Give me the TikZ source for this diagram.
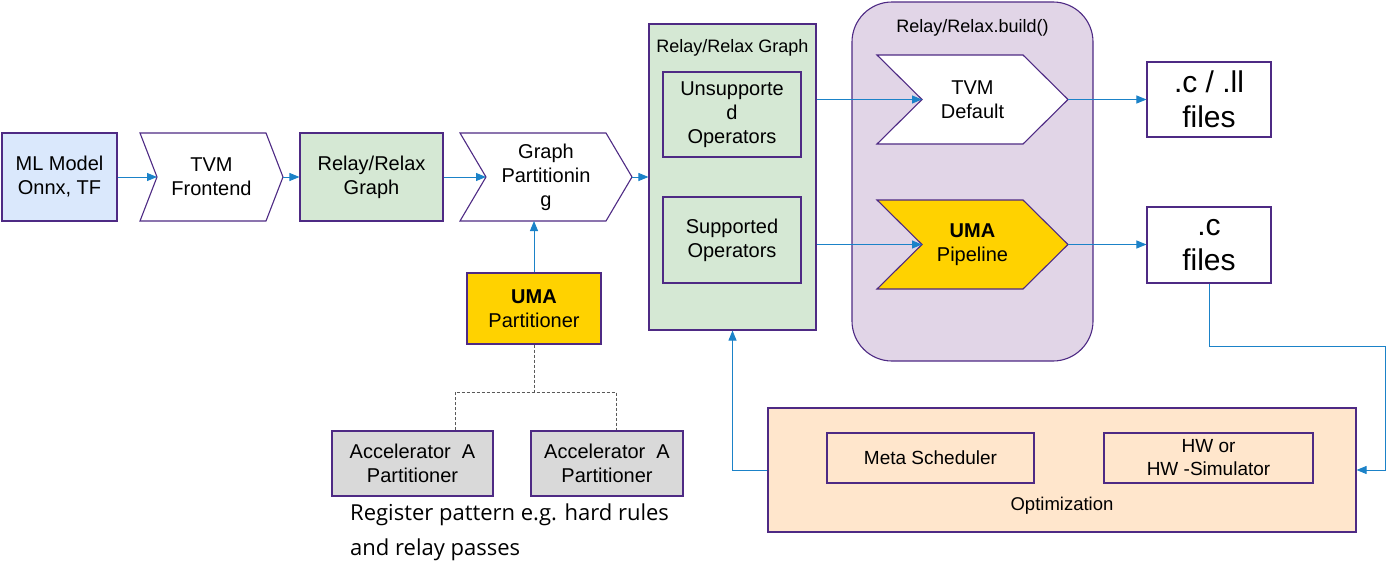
\documentclass[tikz,border=0pt]{standalone}
\usepackage{fontspec}
\setmainfont{Liberation Sans}
\newfontfamily\notefont{Open Sans}
\usetikzlibrary{arrows.meta}

\definecolor{edgepurple}{HTML}{4E2A84}
\definecolor{flowblue}{HTML}{1B82C8}
\definecolor{modelblue}{HTML}{DAE8FC}
\definecolor{graphgreen}{HTML}{D5E8D4}
\definecolor{buildlilac}{HTML}{E1D5E7}
\definecolor{umayellow}{HTML}{FFD200}
\definecolor{optpeach}{HTML}{FFE6CC}
\definecolor{accgray}{HTML}{D9D9D9}

\tikzset{
  blk/.style={draw=edgepurple, line width=1.1pt, align=center, inner sep=0pt,
    font=\fontsize{20}{24}\selectfont},
  chevline/.style={draw=edgepurple, line width=1.1pt},
  flow/.style={draw=flowblue, line width=0.9pt, -{Triangle[length=10pt,width=8pt]}},
  dashes/.style={draw=black!65, line width=0.8pt, dash pattern=on 3pt off 2pt},
}

% chevron: name, left, top, width, height, depth, fill, text
\newcommand{\chev}[8]{%
  \draw[chevline, fill=#7] (#2,#3) -- ({#2+#4-#6},#3) -- ({#2+#4},{#3+#5/2})
    -- ({#2+#4-#6},{#3+#5}) -- (#2,{#3+#5}) -- ({#2+#6},{#3+#5/2}) -- cycle;
  \coordinate (#1-tip) at ({#2+#4},{#3+#5/2});
  \coordinate (#1-notch) at ({#2+#6},{#3+#5/2});
  \coordinate (#1-bot) at ({#2+#4/2},{#3+#5});
  \node[align=center, font=\fontsize{20}{24}\selectfont] (#1) at ({#2+#4/2},{#3+#5/2}) {#8};
}

\begin{document}
\begin{tikzpicture}[x=1pt,y=-1pt]
  \useasboundingbox (0,0) rectangle (1387,562);

  % front end
  \node[blk, fill=modelblue, minimum width=115pt, minimum height=88pt] (model) at (59.5,177) {ML Model\\Onnx, TF};
  \chev{front}{140}{133}{143}{88}{17}{white}{TVM\\Frontend}
  \node[blk, fill=graphgreen, minimum width=143pt, minimum height=88pt] (relay) at (371.5,177) {Relay/Relax\\Graph};
  \chev{part}{460}{133}{172}{88}{26}{white}{Graph\\Partitionin\\g}

  % partitioned graph
  \node[blk, fill=graphgreen, minimum width=167pt, minimum height=306pt] (pgraph) at (732.5,177) {};
  \node[font=\fontsize{18}{22}\selectfont] (pgraphlbl) at (732.5,48) {Relay/Relax Graph};
  \node[blk, fill=graphgreen, minimum width=138pt, minimum height=85pt] (unsup) at (732,114.5) {Unsupporte\\d\\Operators};
  \node[blk, fill=graphgreen, minimum width=138pt, minimum height=86pt] (sup) at (732,240) {Supported\\Operators};

  % build step
  \node[draw=edgepurple, line width=1.1pt, fill=buildlilac, rounded corners=40pt,
    minimum width=241pt, minimum height=359pt] (build) at (972.5,181.5) {};
  \node[font=\fontsize{18}{22}\selectfont] (buildlbl) at (972.5,28) {Relay/Relax.build()};
  \chev{tvmdef}{877}{55}{191}{89}{45}{white}{TVM\\Default}
  \chev{umapipe}{877}{200}{191}{89}{45}{umayellow}{\textbf{UMA}\\Pipeline}

  % generated files
  \node[blk, fill=white, minimum width=124pt, minimum height=75pt, font=\fontsize{30}{35}\selectfont] (llfiles) at (1209,99.5) {.c / .ll\\files};
  \node[blk, fill=white, minimum width=124pt, minimum height=76pt, font=\fontsize{30}{35}\selectfont] (cfiles) at (1209,245) {.c\\files};

  % partitioners
  \node[blk, fill=umayellow, minimum width=134pt, minimum height=71pt] (umapart) at (534,308.5) {\textbf{UMA}\\Partitioner};
  \node[blk, fill=accgray, minimum width=161pt, minimum height=65pt] (accA) at (412.5,463.5) {Accelerator~~A\\Partitioner};
  \node[blk, fill=accgray, minimum width=152pt, minimum height=65pt] (accB) at (607,463.5) {Accelerator~~A\\Partitioner};
  \node[align=left, anchor=west, inner sep=0pt, font=\notefont\fontsize{22}{35}\selectfont] (note) at (350,532) {Register pattern e.g. hard rules\\and relay passes};

  % optimization
  \node[blk, fill=optpeach, minimum width=588pt, minimum height=124pt] (opt) at (1062,470) {};
  \node[blk, fill=optpeach, minimum width=207pt, minimum height=50pt, font=\fontsize{19}{23}\selectfont] (meta) at (930.5,458) {Meta Scheduler};
  \node[blk, fill=optpeach, minimum width=209pt, minimum height=50pt, font=\fontsize{19}{23}\selectfont] (hw) at (1208.5,458) {HW or\\HW -Simulator};
  \node[font=\fontsize{18.5}{22}\selectfont] (optlbl) at (1062,506) {Optimization};

  % connectors
  \draw[flow] (model.east) -- (front-notch);
  \draw[flow] (front-tip) -- (relay.west);
  \draw[flow] (relay.east) -- (part-notch);
  \draw[flow] (part-tip) -- (pgraph.west);
  \draw[flow] (umapart.north) -- (umapart.north |- part-bot);
  \draw[flow] (tvmdef-notch -| pgraph.east) -- (tvmdef-notch);
  \draw[flow] (umapipe-notch -| pgraph.east) -- (umapipe-notch);
  \draw[flow] (tvmdef-tip) -- (tvmdef-tip -| llfiles.west);
  \draw[flow] (umapipe-tip) -- (umapipe-tip -| cfiles.west);
  \coordinate (loopR) at (1385,346);
  \draw[flow] (cfiles.south) |- (loopR) |- (opt.east);
  \draw[flow] (opt.west) -| (pgraph.south);

  % dashed links to accelerators
  \coordinate (splitA) at (455,392);
  \coordinate (splitB) at (616,392);
  \draw[dashes] (umapart.south) -- (umapart.south |- splitA);
  \draw[dashes] (accA.north -| splitA) -- (splitA) -- (splitB) -- (accB.north -| splitB);
\end{tikzpicture}
\end{document}
